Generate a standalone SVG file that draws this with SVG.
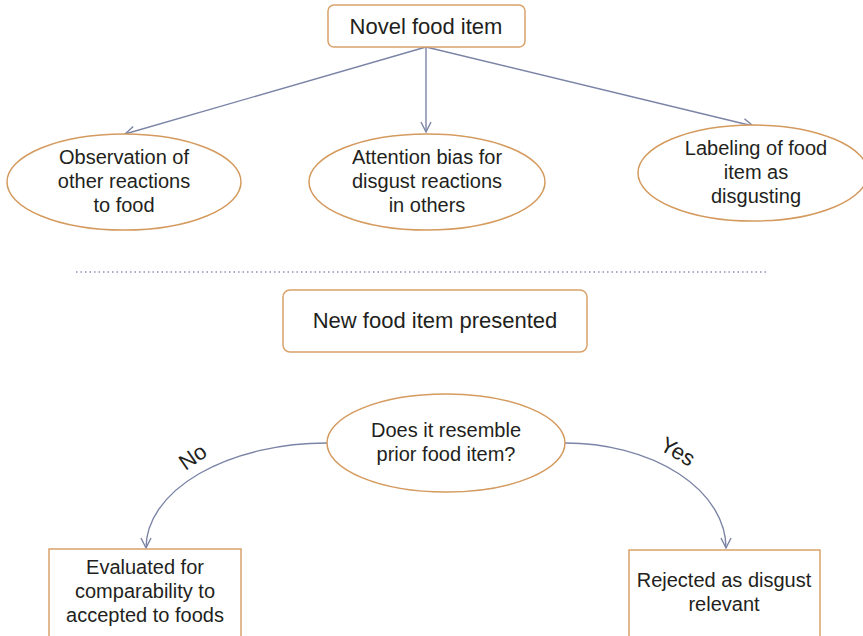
<svg xmlns="http://www.w3.org/2000/svg" width="863" height="636" viewBox="0 0 863 636">
<style>
text{font-family:"Liberation Sans",Arial,Helvetica,sans-serif;fill:#231f20;text-anchor:middle}
.t22{font-size:22px}
.t20{font-size:20px}
.box{fill:#fff;stroke:#d9a26a;stroke-width:1.5}
.ell{fill:#fff;stroke:#d49a5e;stroke-width:1.5}
.edge{fill:none;stroke:#7b84a6;stroke-width:1.4}
</style>
<defs>
<marker id="arr" markerWidth="12" markerHeight="12" refX="10" refY="5" orient="auto" markerUnits="userSpaceOnUse" overflow="visible">
<path d="M0,0 L10,5 L0,10" fill="none" stroke="#7b84a6" stroke-width="1.4"/>
</marker>
</defs>
<rect width="863" height="636" fill="#fff"/>
<g id="connectors">
<line class="edge" x1="426" y1="47" x2="125" y2="134" marker-end="url(#arr)"/>
<line class="edge" x1="426" y1="47" x2="426" y2="132" marker-end="url(#arr)"/>
<line class="edge" x1="426" y1="47" x2="753" y2="126" marker-end="url(#arr)"/>
<path class="edge" d="M327,443 A181,105 0 0 0 146,548" marker-end="url(#arr)"/>
<path class="edge" d="M565,443 A161,105 0 0 1 726,548" marker-end="url(#arr)"/>
<text class="t22" transform="translate(197,463) rotate(-35)">No</text>
<text class="t22" transform="translate(674,458) rotate(30)">Yes</text>
</g>
<line x1="76" y1="272" x2="766" y2="272" stroke="#8a90c0" stroke-width="1.5" stroke-dasharray="1.5 3"/>
<g id="novel">
<rect class="box" x="328" y="5" width="197" height="42" rx="6"/>
<text class="t22" x="426" y="34">Novel food item</text>
</g>
<g id="observation">
<ellipse class="ell" cx="124" cy="182" rx="117" ry="48"/>
<text class="t20" x="124" y="164">Observation of</text>
<text class="t20" x="124" y="188">other reactions</text>
<text class="t20" x="124" y="212">to food</text>
</g>
<g id="attention">
<ellipse class="ell" cx="427" cy="182" rx="118" ry="48"/>
<text class="t20" x="427" y="164">Attention bias for</text>
<text class="t20" x="427" y="188">disgust reactions</text>
<text class="t20" x="427" y="212">in others</text>
</g>
<g id="labeling">
<ellipse class="ell" cx="753" cy="173" rx="115" ry="48"/>
<text class="t20" x="756" y="155">Labeling of food</text>
<text class="t20" x="756" y="179">item as</text>
<text class="t20" x="756" y="203">disgusting</text>
</g>
<g id="newfood">
<rect class="box" x="283" y="290" width="304" height="62" rx="7"/>
<text class="t22" x="435" y="328">New food item presented</text>
</g>
<g id="resemble">
<ellipse class="ell" cx="446" cy="443" rx="119" ry="49"/>
<text class="t20" x="446" y="437">Does it resemble</text>
<text class="t20" x="446" y="461">prior food item?</text>
</g>
<g id="evaluated">
<rect class="box" x="49" y="549" width="192" height="100"/>
<text class="t20" x="145" y="574">Evaluated for</text>
<text class="t20" x="145" y="598">comparability to</text>
<text class="t20" x="145" y="622">accepted to foods</text>
</g>
<g id="rejected">
<rect class="box" x="629" y="550" width="191" height="100"/>
<text class="t20" x="724" y="587">Rejected as disgust</text>
<text class="t20" x="724" y="611">relevant</text>
</g>
</svg>
